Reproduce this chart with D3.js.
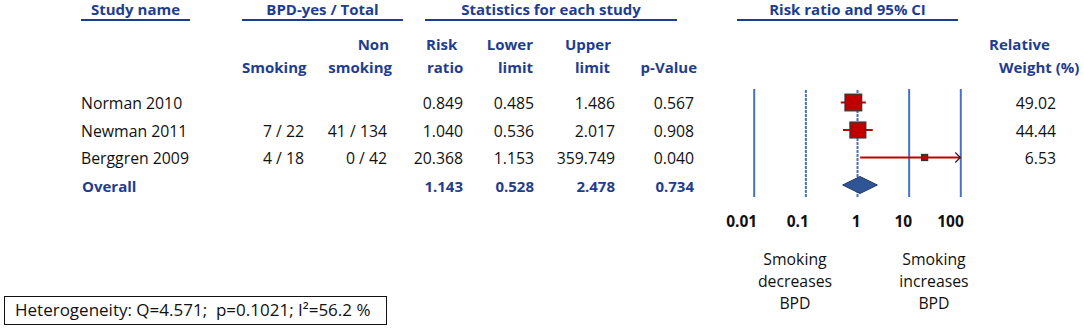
<!DOCTYPE html>
<html>
<head>
<meta charset="utf-8">
<script src="https://cdn.jsdelivr.net/npm/d3@7"></script>
<style>
  body { margin: 0; background: #fff; }
  svg { display: block; font-family: "Open Sans", "Noto Sans", sans-serif; }
  .hdr { fill: #1f3d8f; font-weight: bold; }
  .cell { fill: #111; }
</style>
</head>
<body>
<div id="forest"></div>
<script>
var studies = ["Norman 2010", "Newman 2011", "Berggren 2009"]
var smoking = ["", "7 / 22", "4 / 18"]
var nonSmoking = ["", "41 / 134", "0 / 42"]
var riskRatio = [0.849, 1.040, 20.368]
var lowerLimit = [0.485, 0.536, 1.153]
var upperLimit = [1.486, 2.017, 359.749]
var pValue = [0.567, 0.908, 0.040]
var relWeight = [49.02, 44.44, 6.53]
var overallStats = [1.143, 0.528, 2.478, 0.734]
var tickValues = [0.01, 0.1, 1, 10, 100]
var tickLabels = ["0.01", "0.1", "1", "10", "100"]
var heterogeneity = "Heterogeneity: Q=4.571;  p=0.1021; I\u00b2=56.2 %"

var width = 1084, height = 336
var blue = "#1f3d8f", lineBlue = "#4472c4", red = "#c00000"
var fmt = d3.format(".3f")
var bodySize = "15.8px", headSize = "15px"

var svg = d3.select("#forest").append("svg")
  .attr("width", width)
  .attr("height", height)

var rows = studies.concat(["Overall"])
var y = d3.scalePoint().domain(rows).range([102.5, 185])
var x = d3.scaleLog().domain([0.01, 100]).range([753.7, 960.3])
var size = d3.scaleSqrt().domain([0, d3.max(relWeight)]).range([0, 16.7])

// top headers with underline
var groups = [
  { label: "Study name", x0: 81, x1: 190 },
  { label: "BPD-yes / Total", x0: 242, x1: 403 },
  { label: "Statistics for each study", x0: 425, x1: 677 },
  { label: "Risk ratio and 95% CI", x0: 737, x1: 958 }
]
groups.forEach(function(g) {
  svg.append("text").attr("class", "hdr")
    .attr("x", (g.x0 + g.x1) / 2).attr("y", 15)
    .attr("text-anchor", "middle").style("font-size", headSize)
    .text(g.label)
  svg.append("line")
    .attr("x1", g.x0).attr("x2", g.x1).attr("y1", 20).attr("y2", 20)
    .attr("stroke", blue).attr("stroke-width", 2)
})

// column headers
var colHeads = [
  { t: "Smoking", x: 242, y: 73, a: "start" },
  { t: "Non", x: 389, y: 50, a: "end" },
  { t: "smoking", x: 392, y: 73, a: "end" },
  { t: "Risk", x: 426, y: 50, a: "start" },
  { t: "ratio", x: 427, y: 73, a: "start" },
  { t: "Lower", x: 533, y: 50, a: "end" },
  { t: "limit", x: 533, y: 73, a: "end" },
  { t: "Upper", x: 611, y: 50, a: "end" },
  { t: "limit", x: 610, y: 73, a: "end" },
  { t: "p-Value", x: 697, y: 73, a: "end" },
  { t: "Relative", x: 989, y: 50, a: "start" },
  { t: "Weight (%)", x: 999, y: 73, a: "start" }
]
svg.append("g").selectAll("text")
  .data(colHeads)
  .enter().append("text")
    .attr("class", "hdr")
    .attr("x", function(d) { return d.x })
    .attr("y", function(d) { return d.y })
    .attr("text-anchor", function(d) { return d.a })
    .style("font-size", headSize)
    .text(function(d) { return d.t })

// table body
var body = svg.append("g").style("font-size", bodySize)
var base = function(i) { return y(rows[i]) + 6.5 }
function column(values, xPos, anchor) {
  body.append("g").selectAll("text")
    .data(values)
    .enter().append("text")
      .attr("class", "cell")
      .attr("x", xPos)
      .attr("y", function(d, i) { return base(i) })
      .attr("text-anchor", anchor)
      .text(function(d) { return d })
}
column(studies, 81, "start")
column(smoking, 304, "end")
column(nonSmoking, 387, "end")
column(riskRatio.map(fmt), 463, "end")
column(lowerLimit.map(fmt), 534, "end")
column(upperLimit.map(fmt), 615, "end")
column(pValue.map(fmt), 694, "end")
column(relWeight.map(d3.format(".2f")), 1056, "end")

// overall row
body.append("text").attr("class", "hdr")
  .attr("x", 82).attr("y", base(3)).style("font-size", headSize).text("Overall")
var overallX = [463, 534, 615, 694]
body.append("g").selectAll("text")
  .data(overallStats)
  .enter().append("text")
    .attr("class", "hdr")
    .attr("x", function(d, i) { return overallX[i] })
    .attr("y", base(3))
    .attr("text-anchor", "end")
    .style("font-size", headSize)
    .text(fmt)

// axis: tick lines serve as the vertical reference lines
var axis = svg.append("g")
  .attr("transform", "translate(0,197)")
  .call(d3.axisBottom(x)
    .tickValues(tickValues)
    .tickFormat(function(d, i) { return tickLabels[i] })
    .tickSizeInner(-108)
    .tickSizeOuter(0))
axis.select(".domain").remove()
axis.selectAll(".tick line")
  .attr("stroke", lineBlue)
  .attr("stroke-width", 2)
  .attr("stroke-dasharray", function(d) { return (d === 0.1 || d === 1) ? "3,1" : null })
axis.selectAll(".tick text")
  .attr("fill", "#111")
  .attr("x", 3)
  .attr("y", 30)
  .attr("dy", null)
  .attr("text-anchor", "end")
  .style("font-family", "'Open Sans', sans-serif")
  .style("font-size", "15.5px")
  .style("font-weight", "bold")

// study CIs and squares
var marks = svg.append("g")
studies.forEach(function(s, i) {
  var lo = Math.max(lowerLimit[i], x.domain()[0])
  var hi = Math.min(upperLimit[i], x.domain()[1])
  marks.append("line")
    .attr("x1", x(lo)).attr("x2", x(hi))
    .attr("y1", y(s)).attr("y2", y(s))
    .attr("stroke", red).attr("stroke-width", 2)
  if (upperLimit[i] > x.domain()[1]) {
    marks.append("path")
      .attr("d", "M" + (x(hi) - 5) + "," + (y(s) - 5) + "L" + x(hi) + "," + y(s) + "L" + (x(hi) - 5) + "," + (y(s) + 5))
      .attr("fill", "none").attr("stroke", "#222").attr("stroke-width", 1.2)
  }
  var w = size(relWeight[i])
  marks.append("rect")
    .attr("x", x(riskRatio[i]) - w / 2).attr("y", y(s) - w / 2)
    .attr("width", w).attr("height", w)
    .attr("fill", red).attr("stroke", "#333").attr("stroke-width", 1.2)
})

// overall diamond
var oy = y("Overall")
marks.append("path")
  .attr("d", "M" + x(overallStats[1]) + "," + oy +
    "L" + x(overallStats[0]) + "," + (oy - 8.5) +
    "L" + x(overallStats[2]) + "," + oy +
    "L" + x(overallStats[0]) + "," + (oy + 8.5) + "Z")
  .attr("fill", "#2f5597").attr("stroke", "#1f3864").attr("stroke-width", 1)

// direction labels
var notes = [
  { lines: ["Smoking", "decreases", "BPD"], x: 795 },
  { lines: ["Smoking", "increases", "BPD"], x: 934 }
]
notes.forEach(function(n) {
  n.lines.forEach(function(t, j) {
    svg.append("text").attr("class", "cell")
      .attr("x", n.x).attr("y", 265 + j * 22)
      .attr("text-anchor", "middle").style("font-size", bodySize)
      .text(t)
  })
})

// heterogeneity box
svg.append("rect")
  .attr("x", 4.5).attr("y", 296.5).attr("width", 382).attr("height", 28)
  .attr("fill", "none").attr("stroke", "#111").attr("stroke-width", 1)
svg.append("text").attr("class", "cell")
  .attr("x", 15).attr("y", 316).style("font-size", "17px")
  .style("white-space", "pre")
  .text(heterogeneity)
</script>
</body>
</html>
